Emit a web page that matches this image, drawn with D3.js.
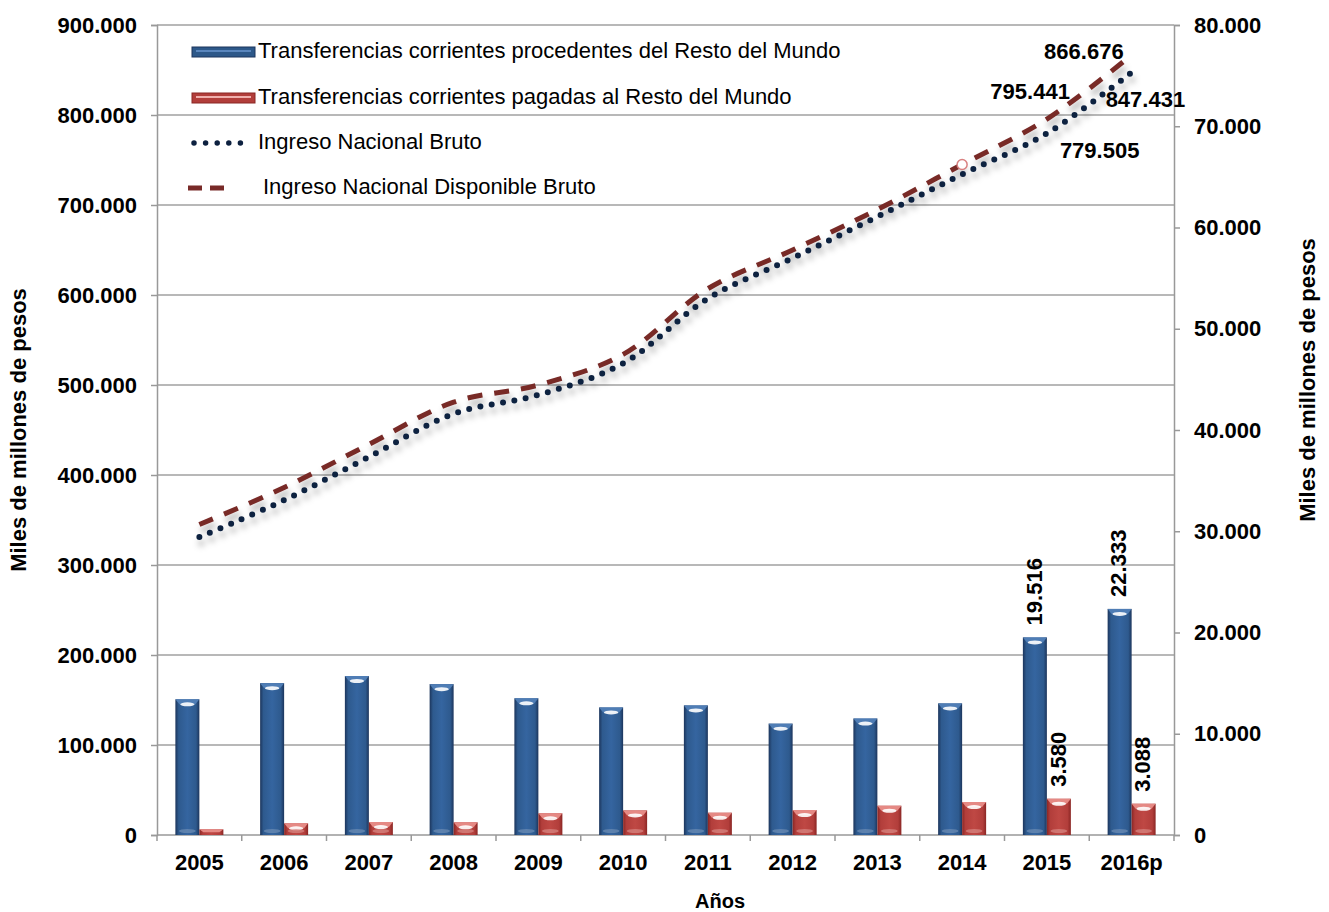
<!DOCTYPE html>
<html>
<head>
<meta charset="utf-8">
<script src="https://cdnjs.cloudflare.com/ajax/libs/d3/7.8.5/d3.min.js"></script>
<style>
    body { margin: 0; background: #fff; }
    text { font-family: "Liberation Sans", Arial, sans-serif; }
    .ticklab { font-size: 22px; font-weight: bold; fill: #000; }
    .legend { font-size: 22px; fill: #000; }
    .vlabel { font-size: 22px; font-weight: bold; fill: #000; }
</style>
</head>
<body>
<div id="chart"></div>
<script>
var years = ["2005", "2006", "2007", "2008", "2009", "2010", "2011", "2012", "2013", "2014", "2015", "2016p"];

// right axis (miles de millones)
var transfIn = [13400, 15000, 15700, 14900, 13500, 12600, 12800, 11000, 11500, 13000, 19516, 22333];
var transfOut = [560, 1150, 1280, 1250, 2140, 2430, 2200, 2460, 2890, 3250, 3580, 3088];

// left axis
var inb = [331000, 372000, 420000, 468000, 489000, 524000, 596000, 641000, 687000, 734000, 779505, 847431];
var indb = [345000, 386000, 434000, 481000, 500000, 534000, 607000, 650000, 695000, 745000, 795441, 866676];

var leftTicks = [0, 100000, 200000, 300000, 400000, 500000, 600000, 700000, 800000, 900000];
var rightTicks = [0, 10000, 20000, 30000, 40000, 50000, 60000, 70000, 80000];

var legendNames = [
    "Transferencias corrientes procedentes del Resto del Mundo",
    "Transferencias corrientes pagadas al Resto del Mundo",
    "Ingreso Nacional Bruto",
    "Ingreso Nacional Disponible Bruto"
];

var width = 1329;
var height = 912;
var plotLeft = 157, plotRight = 1174, plotTop = 25, plotBottom = 835;

var loc = d3.formatLocale({ decimal: ",", thousands: ".", grouping: [3], currency: ["$", ""] });
var fmt = loc.format(",");

var svg = d3.select("#chart")
    .append("svg")
        .attr("width", width)
        .attr("height", height);

var defs = svg.append("defs");

function hGrad(id, edge, mid, center) {
    var g = defs.append("linearGradient").attr("id", id)
        .attr("x1", "0%").attr("x2", "100%").attr("y1", "0%").attr("y2", "0%");
    g.append("stop").attr("offset", "0%").attr("stop-color", edge);
    g.append("stop").attr("offset", "14%").attr("stop-color", mid);
    g.append("stop").attr("offset", "50%").attr("stop-color", center);
    g.append("stop").attr("offset", "86%").attr("stop-color", mid);
    g.append("stop").attr("offset", "100%").attr("stop-color", edge);
}
hGrad("blueGrad", "#1c355c", "#2e5a8e", "#3565a0");
hGrad("redGrad", "#8a2624", "#b23e3b", "#bf4844");

var shadow = defs.append("filter").attr("id", "shadow")
    .attr("x", "-5%").attr("y", "-10%").attr("width", "115%").attr("height", "130%");
shadow.append("feDropShadow")
    .attr("dx", 2).attr("dy", 6).attr("stdDeviation", 3)
    .attr("flood-color", "#000").attr("flood-opacity", 0.3);

var x = d3.scaleBand()
    .domain(years)
    .range([plotLeft, plotRight]);

var xSub = d3.scaleBand()
    .domain(["in", "out"])
    .range([0, x.bandwidth()])
    .paddingOuter(0.766);

var yLeft = d3.scaleLinear()
    .domain([0, 900000])
    .range([plotBottom, plotTop]);

var yRight = d3.scaleLinear()
    .domain([0, 80000])
    .range([plotBottom, plotTop]);

// gridlines
svg.append("g")
    .selectAll("line")
    .data(leftTicks.slice(1))
    .enter().append("line")
        .attr("x1", plotLeft).attr("x2", plotRight)
        .attr("y1", function (d) { return yLeft(d); })
        .attr("y2", function (d) { return yLeft(d); })
        .attr("stroke", "#a0a0a0")
        .attr("stroke-width", 1.5);

// axes
var leftAxis = svg.append("g")
    .attr("transform", "translate(" + plotLeft + ",0)")
    .call(d3.axisLeft(yLeft).tickValues(leftTicks).tickFormat(fmt).tickSize(6).tickPadding(14));

var rightAxis = svg.append("g")
    .attr("transform", "translate(" + plotRight + ",0)")
    .call(d3.axisRight(yRight).tickValues(rightTicks).tickFormat(fmt).tickSize(6).tickPadding(14));

[leftAxis, rightAxis].forEach(function (ax) {
    ax.attr("font-family", null).attr("font-size", null);
    ax.select(".domain").attr("stroke", "#999").attr("stroke-width", 1.5);
    ax.selectAll(".tick line").attr("stroke", "#999").attr("stroke-width", 1.5);
    ax.selectAll(".tick text").attr("class", "ticklab");
});

// x axis
svg.append("line")
    .attr("x1", plotLeft).attr("x2", plotRight)
    .attr("y1", plotBottom).attr("y2", plotBottom)
    .attr("stroke", "#999").attr("stroke-width", 1.5);

var bounds = years.map(function (d) { return x(d); }).concat([plotRight]);
svg.append("g")
    .selectAll("line")
    .data(bounds)
    .enter().append("line")
        .attr("x1", function (d) { return d; })
        .attr("x2", function (d) { return d; })
        .attr("y1", plotBottom).attr("y2", plotBottom + 6)
        .attr("stroke", "#999").attr("stroke-width", 1.5);

svg.append("g")
    .selectAll("text")
    .data(years)
    .enter().append("text")
        .attr("class", "ticklab")
        .attr("text-anchor", "middle")
        .attr("x", function (d) { return x(d) + x.bandwidth() / 2; })
        .attr("y", 870)
        .text(function (d) { return d; });

svg.append("text")
    .attr("class", "ticklab")
    .style("font-size", "20px")
    .attr("text-anchor", "middle")
    .attr("x", 720)
    .attr("y", 908)
    .text("Años");

svg.append("text")
    .attr("class", "ticklab")
    .attr("text-anchor", "middle")
    .attr("dominant-baseline", "middle")
    .attr("transform", "translate(20,430)rotate(-90)")
    .text("Miles de millones de pesos");

svg.append("text")
    .attr("class", "ticklab")
    .attr("text-anchor", "middle")
    .attr("dominant-baseline", "middle")
    .attr("transform", "translate(1309,380)rotate(-90)")
    .text("Miles de millones de pesos");

// bars
function drawBars(values, key, grad, bevel, glow) {
    var g = svg.append("g");
    values.forEach(function (v, i) {
        var x0 = x(years[i]) + xSub(key);
        var w = xSub.bandwidth();
        var y0 = yRight(v);
        var h = plotBottom - y0;
        g.append("rect")
            .attr("x", x0).attr("y", y0)
            .attr("width", w).attr("height", h)
            .attr("fill", "url(#" + grad + ")");
        var b = Math.min(5, h / 2);
        g.append("path")
            .attr("d", "M" + x0 + "," + y0 + "H" + (x0 + w) + "L" + (x0 + w - 4) + "," + (y0 + b) +
                "H" + (x0 + 4) + "Z")
            .attr("fill", bevel);
        if (h > 8) {
            g.append("ellipse")
                .attr("cx", x0 + w / 2).attr("cy", y0 + 5)
                .attr("rx", w * 0.3).attr("ry", 2)
                .attr("fill", "#fff").attr("opacity", 0.9);
            g.append("ellipse")
                .attr("cx", x0 + w / 2).attr("cy", plotBottom - 4)
                .attr("rx", w * 0.35).attr("ry", 2)
                .attr("fill", glow).attr("opacity", 0.7);
        }
    });
}
drawBars(transfIn, "in", "blueGrad", "#4f7db5", "#6f8fb5");
drawBars(transfOut, "out", "redGrad", "#e58984", "#d98a86");

// lines
var line = d3.line()
    .x(function (d, i) { return x(years[i]) + x.bandwidth() / 2; })
    .y(function (d) { return yLeft(d); })
    .curve(d3.curveCatmullRom.alpha(0.5));

svg.append("path")
    .datum(indb)
    .attr("d", line)
    .attr("fill", "none")
    .attr("stroke", "#782a28")
    .attr("stroke-width", 5)
    .attr("stroke-dasharray", "15 12")
    .attr("filter", "url(#shadow)");

svg.append("path")
    .datum(inb)
    .attr("d", line)
    .attr("fill", "none")
    .attr("stroke", "#0d2140")
    .attr("stroke-width", 6)
    .attr("stroke-linecap", "round")
    .attr("stroke-dasharray", "0 11.5")
    .attr("filter", "url(#shadow)");

// 2014 point marker
var i14 = years.indexOf("2014");
svg.append("circle")
    .attr("cx", x(years[i14]) + x.bandwidth() / 2)
    .attr("cy", yLeft(indb[i14]))
    .attr("r", 5)
    .attr("fill", "#fff")
    .attr("stroke", "#d98080")
    .attr("stroke-width", 1.5);

// data labels on lines
var lineLabels = [
    { v: indb[11], i: 11, dx: -8, dy: -2, anchor: "end" },
    { v: indb[10], i: 10, dx: 23, dy: -26, anchor: "end" },
    { v: inb[11], i: 11, dx: -26, dy: 29, anchor: "start" },
    { v: inb[10], i: 10, dx: 13, dy: 19, anchor: "start" }
];
svg.append("g")
    .selectAll("text")
    .data(lineLabels)
    .enter().append("text")
        .attr("class", "vlabel")
        .attr("text-anchor", function (d) { return d.anchor; })
        .attr("dominant-baseline", "middle")
        .attr("x", function (d) { return x(years[d.i]) + x.bandwidth() / 2 + d.dx; })
        .attr("y", function (d) { return yLeft(d.v) + d.dy; })
        .text(function (d) { return fmt(d.v); });

// data labels on last bars
var barLabels = [
    { v: transfIn[10], i: 10, key: "in" },
    { v: transfIn[11], i: 11, key: "in" },
    { v: transfOut[10], i: 10, key: "out" },
    { v: transfOut[11], i: 11, key: "out" }
];
svg.append("g")
    .selectAll("text")
    .data(barLabels)
    .enter().append("text")
        .attr("class", "vlabel")
        .attr("dominant-baseline", "middle")
        .attr("transform", function (d) {
            var cx = x(years[d.i]) + xSub(d.key) + xSub.bandwidth() / 2 + 1;
            return "translate(" + cx + "," + (yRight(d.v) - 12) + ")rotate(-90)";
        })
        .text(function (d) { return fmt(d.v); });

// legend
var lg = svg.append("g");
var rowY = [52, 98, 143, 188];

[["#2d5889", "#1c355c", "#5a86bd"], ["#b23e3b", "#8a2624", "#f0b0ad"]].forEach(function (c, k) {
    lg.append("rect")
        .attr("x", 192).attr("y", rowY[k] - 5)
        .attr("width", 63).attr("height", 10)
        .attr("fill", c[0]).attr("stroke", c[1]).attr("stroke-width", 1);
    lg.append("line")
        .attr("x1", 196).attr("x2", 251)
        .attr("y1", rowY[k] - 1).attr("y2", rowY[k] - 1)
        .attr("stroke", c[2]).attr("stroke-width", 2);
});

lg.append("line")
    .attr("x1", 194).attr("x2", 252)
    .attr("y1", rowY[2]).attr("y2", rowY[2])
    .attr("stroke", "#0d2140")
    .attr("stroke-width", 5.5)
    .attr("stroke-linecap", "round")
    .attr("stroke-dasharray", "0 11.6");

lg.append("line")
    .attr("x1", 188).attr("x2", 224)
    .attr("y1", rowY[3]).attr("y2", rowY[3])
    .attr("stroke", "#782a28")
    .attr("stroke-width", 5)
    .attr("stroke-dasharray", "14 8");

lg.selectAll(".legend")
    .data(legendNames)
    .enter().append("text")
        .attr("class", "legend")
        .attr("x", function (d, i) { return i === 3 ? 263 : 258; })
        .attr("y", function (d, i) { return rowY[i]; })
        .attr("dominant-baseline", "middle")
        .text(function (d) { return d; });
</script>
</body>
</html>
